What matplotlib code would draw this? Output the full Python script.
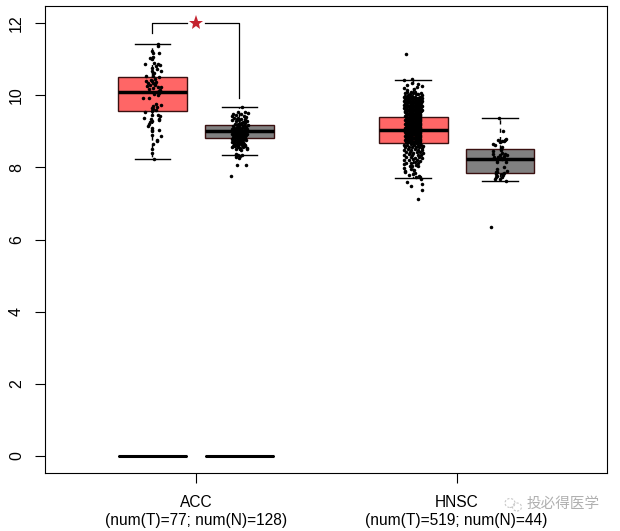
import matplotlib
matplotlib.use("Agg")
import matplotlib.pyplot as plt
from matplotlib.patches import Ellipse

plt.rcParams['font.family'] = ['Liberation Sans', 'Noto Sans CJK SC', 'DejaVu Sans']

positions = [1, 2, 4, 5]
group_ticks = [1.5, 4.5]
group_names = ["ACC", "HNSC"]
group_counts = ["(num(T)=77; num(N)=128)", "(num(T)=519; num(N)=44)"]
y_ticks = [0, 2, 4, 6, 8, 10, 12]
box_colors = ["#FF6666", "#808080", "#FF6666", "#808080"]

# whisker low, q1, median, q3, whisker high
whislo = [8.22, 8.33, 7.70, 7.62]
q1 = [9.56, 8.80, 8.67, 7.84]
med = [10.10, 9.00, 9.03, 8.23]
q3 = [10.50, 9.18, 9.39, 8.50]
whishi = [11.42, 9.67, 10.42, 9.37]

# the flat boxes at the bottom of ACC
zero_positions = [1, 2]
zero_values = [0, 0]

bracket_y = 12.0
bracket_left_end = 11.72
bracket_right_end = 9.92

# (x jitter, value)
acc_t = [(.06,11.43),(.06,11.35),(-.01,11.23),(.01,11.18),(.08,11.16),(.01,11.07),(0,10.99),(-.09,10.87),
         (.02,10.90),(.06,10.87),(.09,10.83),(0,10.76),(-.01,10.67),(.05,10.72),(.10,10.67),(-.07,10.53),
         (.01,10.53),(.07,10.50),(-.07,10.39),(-.01,10.39),(.01,10.35),(-.03,10.28),(.03,10.28),(-.04,10.16),
         (.01,10.19),(.06,10.22),(.10,10.22),(.05,10.10),(.08,10.05),(.06,10.01),(-.11,9.91),(-.04,9.91),
         (.03,10.31),(-.05,10.33),(.07,10.12),(.09,10.15),(.02,10.02),(.01,9.70),(.05,9.68),(.10,9.72),
         (.01,9.62),(-.01,9.56),(-.09,9.52),(.06,9.45),(.09,9.43),(-.10,9.38),(.08,9.31),(-.01,9.27),
         (-.04,9.20),(-.05,9.15),(-.03,9.25),(.08,9.04),(0,9.04),(.10,8.87),(.05,8.76),(.05,8.72),
         (.01,8.64),(.02,8.22),(-.01,9.65),(.04,9.75),(0,9.00),(0,8.90),(0,8.50),(0,8.40),(-.02,10.42),
         (.03,10.45),(-.06,10.25),(.04,10.37),(0,9.45),(-.02,9.35),(.07,9.33),(.04,9.60),(.02,10.60),(.04,10.82),
         (-.03,11.02),(.01,10.62),(0,9.10)]
acc_n = [(.03,9.66),(-.02,9.52),(.02,9.48),(.07,9.54),(.10,9.51),(-.07,9.47),(-.04,9.44),(.05,9.42),(.08,9.40),
         (-.09,9.42),(-.06,9.36),(-.02,9.38),(.02,9.33),(.06,9.34),(.09,9.28),(-.08,9.30),(-.04,9.27),(0,9.30),
         (.04,9.26),(.07,9.22),(.10,9.18),(-.05,9.20),(-.01,9.21),(.02,9.19),(.05,9.16),(.08,9.13),(-.07,9.14),
         (-.03,9.13),(0,9.12),(.03,9.10),(.06,9.08),(.09,9.05),(-.08,9.06),(-.05,9.07),(-.02,9.05),(.01,9.03),
         (.04,9.02),(.07,9.00),(-.09,9.00),(-.06,8.98),(-.03,8.98),(0,8.97),(.03,8.95),(.06,8.93),(.09,8.92),
         (-.08,8.92),(-.05,8.90),(-.02,8.90),(.01,8.88),(.04,8.87),(.07,8.85),(-.07,8.84),(-.04,8.83),(-.01,8.82),
         (.02,8.80),(.05,8.79),(-.08,8.78),(-.05,8.76),(-.02,8.74),(.01,8.73),(.04,8.71),(-.06,8.68),(-.03,8.66),
         (0,8.65),(.03,8.62),(-.07,8.60),(-.05,8.58),(-.08,8.56),(-.01,8.57),(.04,8.56),(.09,8.53),(.09,8.50),
         (.02,8.48),(-.04,8.50),(-.02,8.35),(-.04,8.34),(.03,8.33),(.01,8.30),(-.04,8.28),(0,8.27),(-.04,8.38),
         (-.03,8.07),(.08,8.06),(-.10,7.77),(.06,9.28),(.02,9.24),(-.03,9.34),(.00,9.16),(.04,9.14),(-.06,9.10),
         (-.02,9.09),(.02,9.07),(.07,9.04),(-.04,9.02),(-.01,9.00),(.02,8.99),(.05,8.97),(-.07,8.95),(-.04,8.94),
         (-.01,8.93),(.02,8.92),(.05,8.90),(.08,8.89),(-.06,8.87),(-.03,8.86),(0,8.85),(.03,8.84),(.06,8.82),
         (-.05,8.81),(-.02,8.79),(.01,8.77),(.03,8.75),(-.06,8.73),(-.03,8.71),(.02,8.68),(.05,8.66),(-.01,8.62),
         (-.06,8.64),(.06,8.60),(.01,8.53),(-.02,8.58),(.07,8.63),(-.09,8.70),(.08,8.75)]
hnsc_t = [(-.08,11.15),(-.01,10.45),(-.10,10.41),(.10,10.25),(-.07,10.28),(.04,10.22),(-.07,10.15),(-.03,10.10),
          (.09,10.06),(-.09,9.98),(-.04,10.02),(.03,10.02),(-.07,10.10),(-.01,10.35),(.06,10.30),(.01,10.18),
          (-.09,10.05),(-.06,10.00),(0,10.06),(.06,10.04),(.10,10.00),(.02,10.10),(-.10,10.20),
          # dense core
          (-.10,9.95),(-.07,9.96),(-.04,9.94),(-.01,9.97),(.02,9.95),(.05,9.93),(.08,9.94),(.10,9.92),
          (-.09,9.90),(-.06,9.89),(-.03,9.91),(0,9.90),(.03,9.89),(.06,9.88),(.09,9.87),
          (-.10,9.85),(-.07,9.84),(-.04,9.85),(-.01,9.84),(.02,9.83),(.05,9.85),(.08,9.82),(.10,9.84),
          (-.09,9.79),(-.06,9.80),(-.03,9.78),(0,9.79),(.03,9.78),(.06,9.79),(.09,9.77),
          (-.10,9.74),(-.07,9.73),(-.04,9.74),(-.01,9.72),(.02,9.73),(.05,9.72),(.08,9.74),(.10,9.71),
          (-.09,9.68),(-.06,9.69),(-.03,9.67),(0,9.68),(.03,9.67),(.06,9.68),(.09,9.66),
          (-.10,9.63),(-.07,9.62),(-.04,9.63),(-.01,9.61),(.02,9.62),(.05,9.61),(.08,9.63),(.10,9.60),
          (-.09,9.57),(-.06,9.58),(-.03,9.56),(0,9.57),(.03,9.56),(.06,9.57),(.09,9.55),
          (-.09,9.52),(-.07,9.51),(-.04,9.52),(-.01,9.50),(.02,9.51),(.05,9.50),(.08,9.52),
          (-.08,9.46),(-.06,9.47),(-.03,9.45),(0,9.46),(.03,9.45),(.06,9.46),(.08,9.44),
          (-.09,9.41),(-.07,9.40),(-.04,9.41),(-.01,9.39),(.02,9.40),(.05,9.39),(.08,9.41),
          (-.08,9.35),(-.06,9.36),(-.03,9.34),(0,9.35),(.03,9.34),(.06,9.35),(.08,9.33),
          (-.09,9.30),(-.07,9.29),(-.04,9.30),(-.01,9.28),(.02,9.29),(.05,9.28),(.08,9.30),
          (-.08,9.24),(-.06,9.25),(-.03,9.23),(0,9.24),(.03,9.23),(.06,9.24),(.08,9.22),
          (-.09,9.19),(-.07,9.18),(-.04,9.19),(-.01,9.17),(.02,9.18),(.05,9.17),(.08,9.19),
          (-.08,9.13),(-.06,9.14),(-.03,9.12),(0,9.13),(.03,9.12),(.06,9.13),(.08,9.11),
          (-.09,9.08),(-.07,9.07),(-.04,9.08),(-.01,9.06),(.02,9.07),(.05,9.06),(.08,9.08),
          (-.08,9.02),(-.06,9.03),(-.03,9.01),(0,9.02),(.03,9.01),(.06,9.02),(.08,9.00),
          (-.09,8.97),(-.07,8.96),(-.04,8.97),(-.01,8.95),(.02,8.96),(.05,8.95),(.08,8.97),
          (-.08,8.91),(-.06,8.92),(-.03,8.90),(0,8.91),(.03,8.90),(.06,8.91),(.08,8.89),
          (-.09,8.86),(-.07,8.85),(-.04,8.86),(-.01,8.84),(.02,8.85),(.05,8.84),(.08,8.86),
          (-.08,8.80),(-.06,8.81),(-.03,8.79),(0,8.80),(.03,8.79),(.06,8.80),(.08,8.78),
          (-.09,8.75),(-.07,8.74),(-.04,8.75),(-.01,8.73),(.02,8.74),(.05,8.73),(.08,8.75),
          (-.08,8.69),(-.06,8.70),(-.03,8.68),(0,8.69),(.03,8.68),(.06,8.69),(.08,8.67),
          # second pass through the core, it reads as solid black
          (-.085,9.93),(-.055,9.92),(-.025,9.93),(.005,9.92),(.035,9.91),(.065,9.92),(.095,9.90),
          (-.085,9.82),(-.055,9.81),(-.025,9.82),(.005,9.81),(.035,9.80),(.065,9.81),(.095,9.80),
          (-.085,9.71),(-.055,9.70),(-.025,9.71),(.005,9.70),(.035,9.70),(.065,9.71),(.095,9.69),
          (-.085,9.60),(-.055,9.59),(-.025,9.60),(.005,9.59),(.035,9.59),(.065,9.60),(.095,9.58),
          (-.075,9.49),(-.045,9.48),(-.015,9.48),(.015,9.48),(.045,9.48),(.075,9.49),
          (-.075,9.38),(-.045,9.37),(-.015,9.37),(.015,9.37),(.045,9.37),(.075,9.38),
          (-.075,9.27),(-.045,9.27),(-.015,9.26),(.015,9.26),(.045,9.26),(.075,9.27),
          (-.075,9.16),(-.045,9.16),(-.015,9.15),(.015,9.15),(.045,9.15),(.075,9.16),
          (-.075,9.05),(-.045,9.05),(-.015,9.04),(.015,9.04),(.045,9.04),(.075,9.05),
          (-.075,8.94),(-.045,8.94),(-.015,8.93),(.015,8.93),(.045,8.93),(.075,8.94),
          (-.075,8.83),(-.045,8.83),(-.015,8.82),(.015,8.82),(.045,8.82),(.075,8.83),
          (-.075,8.72),(-.045,8.72),(-.015,8.71),(.015,8.71),(.045,8.71),(.075,8.72),
          # sparser below the box
          (-.10,8.63),(-.07,8.62),(-.03,8.64),(.01,8.62),(.05,8.63),(.09,8.61),(.11,8.60),
          (-.09,8.56),(-.05,8.55),(-.01,8.57),(.03,8.55),(.07,8.56),(.10,8.54),
          (-.10,8.49),(-.06,8.50),(-.02,8.48),(.02,8.50),(.06,8.49),(.10,8.47),
          (-.08,8.42),(-.04,8.43),(0,8.41),(.04,8.43),(.08,8.42),(.11,8.40),
          (-.10,8.35),(-.05,8.36),(-.01,8.34),(.05,8.35),(.09,8.33),
          (-.08,8.28),(-.03,8.29),(.02,8.27),(.07,8.28),(.10,8.26),
          (-.10,8.21),(-.05,8.20),(0,8.22),(.04,8.20),(.08,8.18),
          (-.08,8.13),(-.03,8.12),(.02,8.14),(.06,8.11),
          (-.04,8.05),(-.01,8.03),(.03,8.06),(.06,8.03),
          (-.10,8.08),(-.10,7.98),(-.09,7.90),(-.02,7.95),(.01,7.92),
          (-.05,7.78),(.00,7.82),(.02,7.85),(.08,7.73),(.07,7.76),(.09,7.68),(.03,7.72),(-.09,7.86),
          (-.07,7.60),(-.02,7.48),(.10,7.55),(.10,7.37),(.06,7.12)]
hnsc_n = [(-.01,9.36),(.03,9.00),(-.08,8.66),(-.06,8.62),(.07,8.79),(.05,8.74),(.02,8.73),(0,8.71),(-.02,8.76),
          (.02,8.55),(.01,8.48),(-.08,8.46),(-.08,8.37),(.02,8.41),(0,8.34),(.06,8.37),(.08,8.34),(-.07,8.28),
          (-.02,8.28),(.02,8.22),(-.04,8.20),(.07,8.16),(.05,8.02),(-.04,7.94),(-.05,7.88),(.08,7.91),(-.05,7.81),
          (.02,7.81),(.05,7.83),(-.04,7.76),(-.06,7.69),(.02,7.74),(.07,7.61),(0,7.69),(-.10,6.35),(.01,8.52),
          (.04,8.31),(-.03,8.15),(.03,7.78),(-.04,7.86),(.06,8.76),(-.05,7.72),(.01,8.26),(.05,8.27)]
point_groups = [acc_t, acc_n, hnsc_t, hnsc_n]

fig = plt.figure(figsize=(6.2, 5.31), dpi=100)
ax = fig.add_axes([45/620, 58/531, 562/620, 467/531])

stats = []
for a in range(4):
    stats.append({"whislo": whislo[a], "q1": q1[a], "med": med[a], "q3": q3[a], "whishi": whishi[a], "fliers": []})

bp = ax.bxp(stats, positions=positions, widths=0.79, capwidths=0.41, patch_artist=True, showfliers=False,
            boxprops=dict(edgecolor="#3a1010", linewidth=1),
            medianprops=dict(color="black", linewidth=2.5, solid_capstyle="butt"),
            whiskerprops=dict(color="black", linewidth=1, linestyle=(0, (3, 3))),
            capprops=dict(color="black", linewidth=1))
for box, c in zip(bp["boxes"], box_colors):
    box.set_facecolor(c)

# zero boxes
zero_stats = [{"whislo": v, "q1": v, "med": v, "q3": v, "whishi": v, "fliers": []} for v in zero_values]
ax.bxp(zero_stats, positions=zero_positions, widths=0.79, capwidths=0.41, showfliers=False,
       boxprops=dict(color="black", linewidth=0.5),
       medianprops=dict(color="black", linewidth=2.2, solid_capstyle="butt"),
       whiskerprops=dict(color="black", linewidth=0.5), capprops=dict(color="black", linewidth=0.5))

for pos, pts in zip(positions, point_groups):
    ax.scatter([pos + p[0] for p in pts], [p[1] for p in pts], s=6.5, c="black", linewidths=0, zorder=5)

# significance bracket
ax.plot([1, 1, 1.4], [bracket_left_end, bracket_y, bracket_y], color="black", lw=0.9)
ax.plot([1.6, 2, 2], [bracket_y, bracket_y, bracket_right_end], color="black", lw=0.9)
ax.plot([1.5], [bracket_y], marker="*", markersize=11, color="#C4232F", markeredgewidth=0)

ax.set_xlim(-0.236, 6.23)
ax.set_ylim(-0.47, 12.47)
ax.set_xticks(group_ticks)
ax.set_xticklabels(group_names, fontsize=11.2)
ax.set_yticks(y_ticks)
ax.set_yticklabels([str(t) for t in y_ticks], rotation=90, va="center", fontsize=11.5)
ax.tick_params(axis="x", length=7.2, width=0.8, pad=8.5)
ax.tick_params(axis="y", length=7.2, width=0.8, pad=8)

# second line under each group name
for t, s in zip(group_ticks, group_counts):
    ax.annotate(s, xy=(t, 0), xycoords=("data", "axes fraction"), xytext=(0, -48),
                textcoords="offset pixels", ha="center", va="center", fontsize=11.2)

# watermark
fig.text(527/620, 1 - 504/531, "投必得医学", fontsize=10.5, color="#b0b0b0", va="center", ha="left")
fig.add_artist(Ellipse((510/620, 1 - 503/531), 10/620, 9/531, fill=False, ec="#c8c8c8", lw=0.8, ls=(0, (2, 1.5))))
fig.add_artist(Ellipse((517/620, 1 - 507/531), 9/620, 8/531, fill=False, ec="#c8c8c8", lw=0.8, ls=(0, (2, 1.5))))

fig.savefig("out.png", dpi=100)
